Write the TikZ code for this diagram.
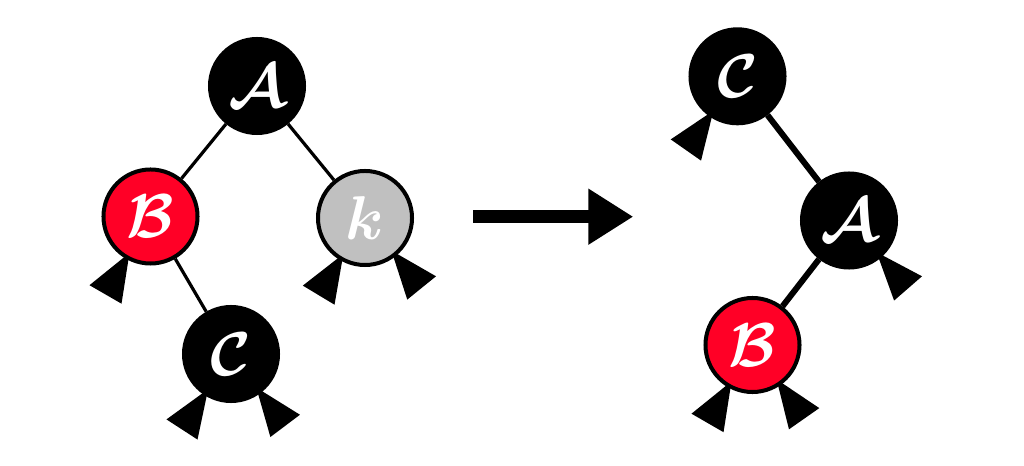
\RequirePackage{fix-cm}
\documentclass[tikz,border=0pt]{standalone}
\usetikzlibrary{arrows.meta,backgrounds,calc}
\definecolor{rbred}{RGB}{255,0,38}
\definecolor{rbgrey}{RGB}{192,192,192}
% nil leaf: a black wedge hanging off a node at a given angle
\newcommand{\leaf}[2]{\fill ($(#1.center)+(#2:42)$) -- ($(#1.center)+(#2:90)+(#2+90:18.5)$) -- ($(#1.center)+(#2:90)+(#2-90:18.5)$) -- cycle;}
\begin{document}
\begin{tikzpicture}[x=0.025cm,y=0.025cm,
  rbnode/.style={circle,draw=black,line width=0.1cm,minimum size=2.35cm,inner sep=0pt,text=white,font=\fontsize{44}{44}\selectfont\boldmath},
  blacknode/.style={rbnode,fill=black},
  rednode/.style={rbnode,fill=rbred},
  greynode/.style={rbnode,fill=rbgrey},
  link/.style={line width=0.08cm},
  biglink/.style={line width=0.15cm}]
    \useasboundingbox (0,0) rectangle (1024,466);

    % before
    \node[blacknode] (A) at (257,380) {$\mathcal{A}$};
    \node[rednode] (B) at (150.5,249.5) {$\mathcal{B}$};
    \node[greynode] (k) at (365,248) {$k$};
    \node[blacknode] (C) at (231,112) {$\mathcal{C}$};

    % after
    \node[blacknode] (C2) at (737.5,389.7) {$\mathcal{C}$};
    \node[blacknode] (A2) at (849,245.5) {$\mathcal{A}$};
    \node[rednode] (B2) at (752.5,121) {$\mathcal{B}$};

    \begin{scope}[on background layer]
    \draw[link] (A) -- (B);
    \draw[link] (A) -- (k);
    \draw[link] (B) -- (C);
    \leaf{B}{240}
    \leaf{k}{239}
    \leaf{k}{309}
    \leaf{C}{237}
    \leaf{C}{307}

    \draw[biglink] (C2) -- (A2);
    \draw[biglink] (A2) -- (B2);
    \leaf{C2}{235}
    \leaf{A2}{311}
    \leaf{B2}{240}
    \leaf{B2}{305}
    \end{scope}

    \coordinate (from) at (473,249.3);
    \coordinate (to) at (633.3,249.3);
    \draw[line width=0.325cm,-{Triangle[length=1.125cm,width=1.325cm]}] (from) -- (to);
\end{tikzpicture}
\end{document}
